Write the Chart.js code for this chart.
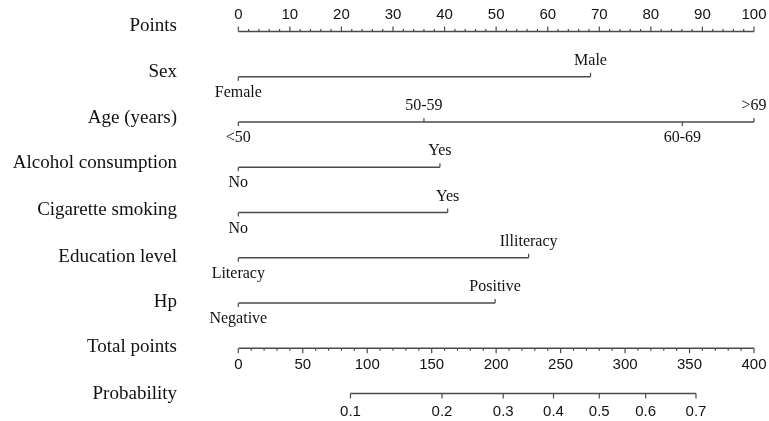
<!DOCTYPE html>
<html lang="en">
<head>
    <meta charset="UTF-8">
    <title>Nomogram</title>
    <script src="https://cdn.jsdelivr.net/npm/chart.js"></script>
    <style>
        body {
            margin: 0;
            background: #ffffff;
        }
        #wrap {
            width: 769px;
            height: 421px;
        }
    </style>
</head>
<body>
    <div id="wrap">
        <canvas id="nomo" width="769" height="421"></canvas>
    </div>
    <script>
        // row titles, top to bottom
        const rowNames = ['Points', 'Sex', 'Age (years)', 'Alcohol consumption', 'Cigarette smoking',
                          'Education level', 'Hp', 'Total points', 'Probability'];

        // points scale
        const pointTicks = [0, 10, 20, 30, 40, 50, 60, 70, 80, 90, 100];

        // predictors: level names and their points
        const sexLevels = ['Female', 'Male'];
        const sexPoints = [0, 68.3];
        const ageLevels = ['<50', '50-59', '60-69', '>69'];
        const agePoints = [0, 36, 86.1, 100];
        const alcoholLevels = ['No', 'Yes'];
        const alcoholPoints = [0, 39.1];
        const smokingLevels = ['No', 'Yes'];
        const smokingPoints = [0, 40.6];
        const educationLevels = ['Literacy', 'Illiteracy'];
        const educationPoints = [0, 56.3];
        const hpLevels = ['Negative', 'Positive'];
        const hpPoints = [0, 49.8];

        // total points and probability scales
        const totalTicks = [0, 50, 100, 150, 200, 250, 300, 350, 400];
        const probLabels = ['0.1', '0.2', '0.3', '0.4', '0.5', '0.6', '0.7'];
        const probTotals = [87, 158, 205.5, 244.5, 280, 316, 355];

        const predictors = [
            { row: 1, levels: sexLevels, pts: sexPoints },
            { row: 2, levels: ageLevels, pts: agePoints },
            { row: 3, levels: alcoholLevels, pts: alcoholPoints },
            { row: 4, levels: smokingLevels, pts: smokingPoints },
            { row: 5, levels: educationLevels, pts: educationPoints },
            { row: 6, levels: hpLevels, pts: hpPoints }
        ];

        const lineColor = '#4a4a4a';
        const serif = '"Liberation Serif", "DejaVu Serif", serif';
        const sans = '"Liberation Sans", Arial, sans-serif';
        // small nudges of the row titles relative to their axis line (px)
        const titleNudge = [-5, -5, -4, -4, -2, -1, -1, -1, 1];

        function seg(x0, x1, row, axis) {
            return {
                data: [{ x: x0, y: row }, { x: x1, y: row }],
                xAxisID: axis,
                showLine: true,
                borderColor: lineColor,
                borderWidth: 1.3,
                pointRadius: 0
            };
        }

        let datasets = [seg(pointTicks[0], pointTicks[pointTicks.length - 1], 0, 'x')];
        predictors.forEach(p => {
            datasets.push(seg(Math.min(...p.pts), Math.max(...p.pts), p.row, 'x'));
        });
        datasets.push(seg(totalTicks[0], totalTicks[totalTicks.length - 1], 7, 'xTotal'));
        datasets.push(seg(probTotals[0], probTotals[probTotals.length - 1], 8, 'xTotal'));

        const nomoPlugin = {
            id: 'nomo',
            afterDatasetsDraw(chart) {
                const ctx = chart.ctx;
                const xs = chart.scales.x;
                const xt = chart.scales.xTotal;
                const ys = chart.scales.y;
                ctx.save();
                ctx.strokeStyle = lineColor;
                ctx.lineWidth = 1.2;
                ctx.fillStyle = '#111';

                function tick(px, py, len) {
                    ctx.beginPath();
                    ctx.moveTo(px, py);
                    ctx.lineTo(px, py + len);
                    ctx.stroke();
                }

                // row titles
                ctx.font = '19px ' + serif;
                ctx.textAlign = 'right';
                ctx.textBaseline = 'middle';
                rowNames.forEach((n, i) => {
                    ctx.fillText(n, 177, ys.getPixelForValue(i) + titleNudge[i]);
                });

                // points axis, ticks up, labels above
                let y0 = ys.getPixelForValue(0);
                for (let v = pointTicks[0]; v <= pointTicks[pointTicks.length - 1]; v += 2) {
                    tick(xs.getPixelForValue(v), y0, v % 10 === 0 ? -5 : -2.5);
                }
                ctx.font = '15px ' + sans;
                ctx.textAlign = 'center';
                pointTicks.forEach(v => {
                    ctx.fillText(String(v), xs.getPixelForValue(v), y0 - 16.5);
                });

                // predictors: alternating labels below / above
                ctx.font = '16px ' + serif;
                predictors.forEach(p => {
                    const py = ys.getPixelForValue(p.row);
                    p.levels.forEach((lab, i) => {
                        const px = xs.getPixelForValue(p.pts[i]);
                        const up = i % 2 === 1;
                        tick(px, py, up ? -4 : 4);
                        ctx.fillText(lab, px, py + (up ? -16 : 16));
                    });
                });

                // total points axis, ticks down, labels below
                ctx.font = '15px ' + sans;
                let y7 = ys.getPixelForValue(7);
                for (let v = totalTicks[0]; v <= totalTicks[totalTicks.length - 1]; v += 10) {
                    tick(xt.getPixelForValue(v), y7, v % 50 === 0 ? 5 : 2.5);
                }
                totalTicks.forEach(v => {
                    ctx.fillText(String(v), xt.getPixelForValue(v), y7 + 17);
                });

                // probability axis
                let y8 = ys.getPixelForValue(8);
                probTotals.forEach((v, i) => {
                    const px = xt.getPixelForValue(v);
                    tick(px, y8, 5);
                    ctx.fillText(probLabels[i], px, y8 + 18);
                });
                ctx.restore();
            }
        };

        new Chart(document.getElementById('nomo'), {
            type: 'scatter',
            data: { datasets: datasets },
            options: {
                responsive: false,
                animation: false,
                layout: { padding: { left: 238.3, right: 15, top: 0, bottom: 0 } },
                plugins: { legend: { display: false }, tooltip: { enabled: false } },
                scales: {
                    x: { type: 'linear', min: 0, max: 100, display: false },
                    xTotal: { type: 'linear', min: 0, max: 400, display: false },
                    y: { type: 'linear', min: -0.696, max: 8.608, reverse: true, display: false }
                }
            },
            plugins: [nomoPlugin]
        });
    </script>
</body>
</html>
